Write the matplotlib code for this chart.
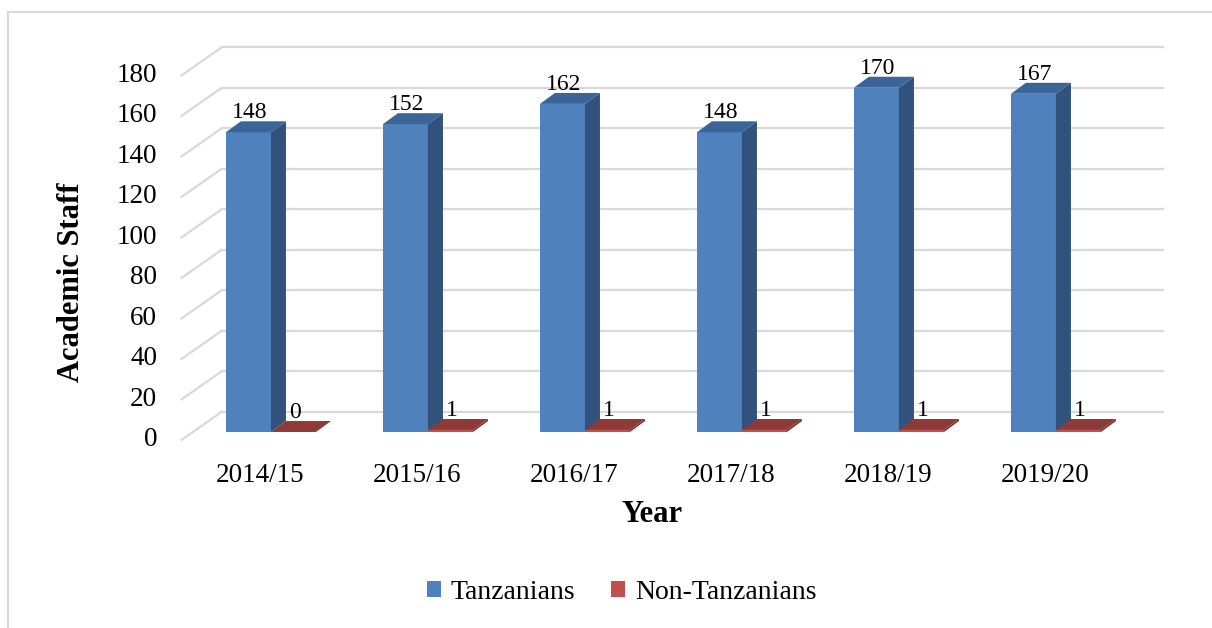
import matplotlib.pyplot as plt
from matplotlib.patches import Polygon, Patch, Rectangle

plt.rcParams['font.family'] = ['Liberation Serif', 'DejaVu Serif']

# data
years = ['2014/15', '2015/16', '2016/17', '2017/18', '2018/19', '2019/20']
tanzanians = [148, 152, 162, 148, 170, 167]
non_tanzanians = [0, 1, 1, 1, 1, 1]
yticks = [0, 20, 40, 60, 80, 100, 120, 140, 160, 180]

# fake 3d offsets (category units, value units)
bar_w = 0.287
bar_dx, bar_dy = 0.0955, 5.4      # depth of the bars
wall_dx, wall_dy = 0.185, 9.9     # back wall vs bar front plane
axp_dx, axp_dy = -0.07, -3.95     # axis plane vs bar front plane

blue = ('#4F81BD', '#3B6596', '#30527D')   # front, top, side
red = ('#C0504D', '#8E3A38', '#7A302E')

fig = plt.figure(figsize=(12.12, 6.28), dpi=100)
ax = fig.add_axes([0, 0, 1, 1])
ax.set_xlim(-1.726, 5.994)
ax.set_ylim(-96.8, 213.3)
ax.axis('off')

# outer frame
fig.patches.append(Rectangle((7.5 / 1212, -0.1), 2, 1.1 - 11.5 / 628, transform=fig.transFigure,
                             fill=False, edgecolor='#D9D9D9', lw=1.5))

# gridlines: back wall + left side wall
x0, x1 = -0.5, len(years) - 0.5
for v in yticks:
    ax.plot([x0 + wall_dx, x1 + wall_dx], [v + wall_dy, v + wall_dy], color='#D9D9D9', lw=1.6, zorder=1)
    ax.plot([x0 + axp_dx, x0 + wall_dx], [v + axp_dy, v + wall_dy], color='#D9D9D9', lw=1.6, zorder=1)
    ax.text(x0 + axp_dx - 0.155, v + axp_dy, str(v), ha='right', va='center', fontsize=19.5)


def bar3d(x, v, cols):
    ax.bar(x, v, width=bar_w, align='edge', color=cols[0], zorder=3)
    top = [(x, v), (x + bar_w, v), (x + bar_w + bar_dx, v + bar_dy), (x + bar_dx, v + bar_dy)]
    side = [(x + bar_w, 0), (x + bar_w + bar_dx, bar_dy), (x + bar_w + bar_dx, v + bar_dy), (x + bar_w, v)]
    ax.add_patch(Polygon(side, closed=True, facecolor=cols[2], edgecolor='none', zorder=3))
    ax.add_patch(Polygon(top, closed=True, facecolor=cols[1], edgecolor='none', zorder=3))
    ax.text(x + bar_w / 2 + 0.01, v + bar_dy + 1.5, str(v), ha='center', va='baseline', fontsize=17, zorder=5)


for i in range(len(years)):
    bar3d(i - bar_w, tanzanians[i], blue)
    bar3d(i, non_tanzanians[i], red)
    ax.text(i + axp_dx, -24.7, years[i], ha='center', va='baseline', fontsize=19.5)

ax.text(2.427, -44.4, 'Year', ha='center', va='baseline', fontsize=22, fontweight='bold')
ax.text(-1.268, 74.1, 'Academic Staff', ha='center', va='center', rotation=90, fontsize=22, fontweight='bold')

handles = [Patch(facecolor=blue[0], label='Tanzanians'), Patch(facecolor=red[0], label='Non-Tanzanians')]
fig.legend(handles=handles, loc='center', bbox_to_anchor=(0.513, 0.0573), ncol=2, frameon=False,
           fontsize=20, handlelength=0.5, handleheight=0.5, handletextpad=0.36, columnspacing=1.3)

fig.savefig('out.png', dpi=100)
